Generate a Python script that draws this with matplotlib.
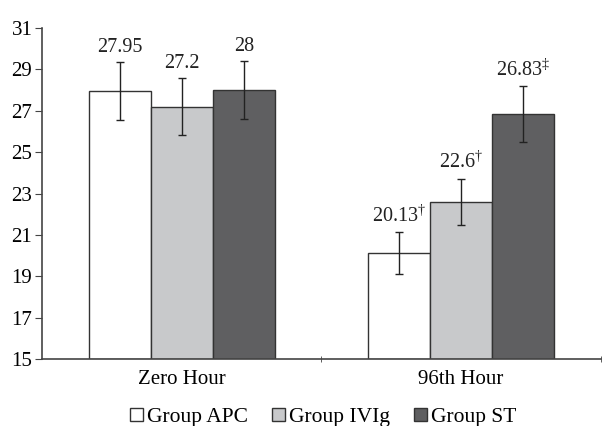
import numpy as np
import matplotlib
matplotlib.use("Agg")
import matplotlib.pyplot as plt

plt.rcParams["font.family"] = ["Liberation Serif", "DejaVu Serif"]
plt.rcParams["mathtext.fontset"] = "custom"
plt.rcParams["mathtext.rm"] = "Liberation Serif"

# data
timepoints = ["Zero Hour", "96th Hour"]
groups = ["Group APC", "Group IVIg", "Group ST"]
means = {
    "Group APC": [27.95, 20.13],
    "Group IVIg": [27.2, 22.6],
    "Group ST": [28.0, 26.83],
}
errors = {
    "Group APC": [1.4, 1.0],
    "Group IVIg": [1.37, 1.13],
    "Group ST": [1.4, 1.35],
}
labels = {
    "Group APC": ["27.95", "20.13$^\\mathrm{†}$"],
    "Group IVIg": ["27.2", "22.6$^\\mathrm{†}$"],
    "Group ST": ["28", "26.83$^\\mathrm{‡}$"],
}
colors = {"Group APC": "#ffffff", "Group IVIg": "#c8c9cb", "Group ST": "#5f5f61"}

fig = plt.figure(figsize=(6.1, 4.26), dpi=100)
ax = fig.add_axes([0.069, 0.157, 0.916, 0.777])

x = np.arange(len(timepoints))
width = 0.222
for i, g in enumerate(groups):
    pos = x + (i - 1) * width
    ax.bar(pos, np.array(means[g]) - 15, width, bottom=15, color=colors[g],
           edgecolor="#333333", linewidth=1.0, label=g, zorder=2)
    ax.errorbar(pos, means[g], yerr=errors[g], fmt="none", ecolor="#222222",
                elinewidth=1.0, capsize=3, capthick=1.0, zorder=3)
    for p, m, e, t in zip(pos, means[g], errors[g], labels[g]):
        ax.annotate(t, (p, m + e), xytext=(0, 4), textcoords="offset points",
                    ha="center", va="bottom", fontsize=14.5, color="#222222")

ax.set_ylim(15, 31)
ax.set_yticks(np.arange(15, 32, 2))
ax.set_xlim(-0.5, 1.5)
ax.set_xticks(x)
ax.set_xticklabels(timepoints)
ax.set_xticks([0.5, 1.5], minor=True)
ax.tick_params(axis="x", which="major", length=0, pad=8, labelsize=15)
ax.tick_params(axis="x", which="minor", length=5, direction="inout", color="#444444")
ax.tick_params(axis="y", length=5, direction="out", labelsize=15, color="#444444",
               pad=2)

for s in ["top", "right"]:
    ax.spines[s].set_visible(False)
for s in ["left", "bottom"]:
    ax.spines[s].set_color("#444444")
    ax.spines[s].set_linewidth(1.2)

fig.legend(loc="lower center", bbox_to_anchor=(0.53, -0.048), ncol=3,
           frameon=False, fontsize=15.5, handlelength=0.6, handleheight=0.6,
           handletextpad=0.2, columnspacing=1.1)

fig.savefig("out.png", dpi=100)
